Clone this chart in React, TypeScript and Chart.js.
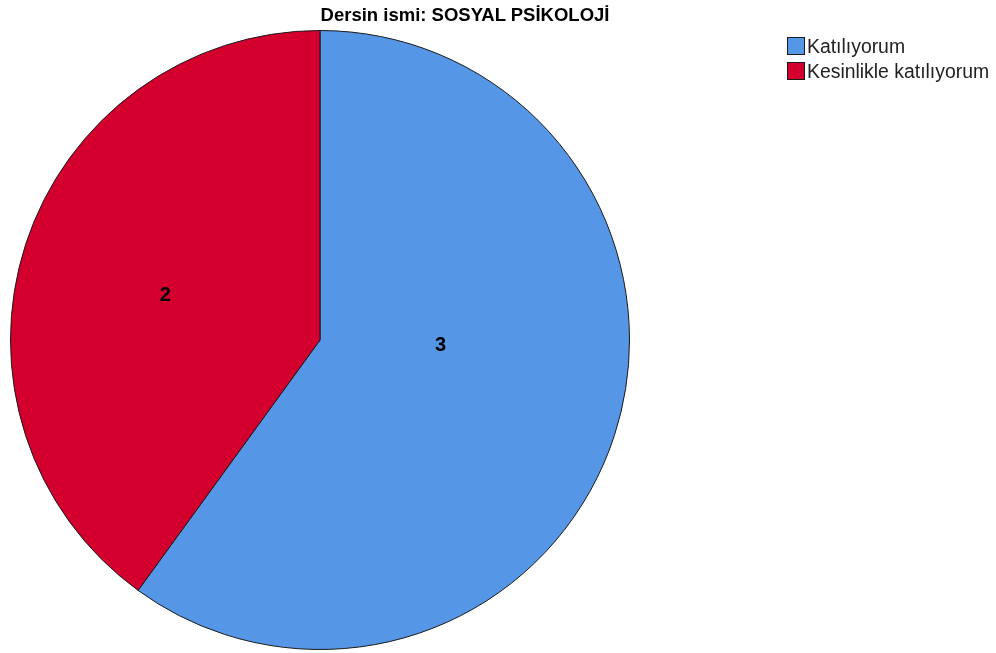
import React, { useEffect, useRef } from "react";
import { Chart, registerables } from "chart.js";

Chart.register(...registerables);

const titleText = "Dersin ismi: SOSYAL PSİKOLOJİ";
const categories = ["Katılıyorum", "Kesinlikle katılıyorum"];
const counts = [3, 2];
const sliceColors = ["#5596E6", "#D3002E"];

const FONT = "'Liberation Sans', Arial, sans-serif";

const valueLabelPlugin = {
  id: "valueLabels",
  afterDatasetsDraw(chart: any, _args: any, opts: any) {
    const ctx = chart.ctx;
    const meta = chart.getDatasetMeta(0);
    const placement = opts.placement || [];
    ctx.save();
    ctx.font = `bold 20px ${FONT}`;
    ctx.fillStyle = "#000";
    ctx.textAlign = "center";
    ctx.textBaseline = "middle";
    meta.data.forEach((arc: any, i: number) => {
      const p = arc.getProps(["x", "y", "outerRadius"], true);
      const pl = placement[i] || { angle: 0, r: 0.5 };
      const a = (pl.angle * Math.PI) / 180;
      const x = p.x + Math.cos(a) * p.outerRadius * pl.r;
      const y = p.y + Math.sin(a) * p.outerRadius * pl.r;
      ctx.fillText(String(chart.data.datasets[0].data[i]), x, y);
    });
    ctx.restore();
  },
};

export default function App() {
  const ref = useRef<HTMLCanvasElement | null>(null);

  useEffect(() => {
    if (!ref.current) return;
    const chart = new Chart(ref.current, {
      type: "pie",
      data: {
        labels: categories,
        datasets: [
          {
            data: counts,
            backgroundColor: sliceColors,
            borderColor: "#1a1a1a",
            borderWidth: 1,
          },
        ],
      },
      options: {
        responsive: false,
        animation: false,
        devicePixelRatio: 1,
        layout: { padding: { left: 10, top: 30, right: 366, bottom: 3 } },
        plugins: {
          legend: { display: false },
          title: { display: false },
          tooltip: { enabled: false },
          valueLabels: {
            placement: [
              { angle: 2.6, r: 0.39 },
              { angle: 196, r: 0.52 },
            ],
          },
        } as any,
      },
      plugins: [valueLabelPlugin],
    });
    return () => chart.destroy();
  }, []);

  return (
    <div
      style={{
        position: "fixed",
        left: 0,
        top: 0,
        width: 996,
        height: 653,
        background: "#fff",
        fontFamily: FONT,
      }}
    >
      <canvas
        ref={ref}
        width={996}
        height={653}
        style={{ position: "absolute", left: 0, top: 0, width: 996, height: 653 }}
      />
      <div
        style={{
          position: "absolute",
          left: 0,
          top: 4,
          width: 930,
          textAlign: "center",
          fontWeight: "bold",
          fontSize: 18.5,
          lineHeight: "22px",
          color: "#000",
        }}
      >
        {titleText}
      </div>
      <div style={{ position: "absolute", left: 787, top: 37 }}>
        {categories.map((c, i) => (
          <div
            key={c}
            style={{ display: "flex", alignItems: "center", height: 25, position: "relative" }}
          >
            <span
              style={{
                display: "inline-block",
                boxSizing: "border-box",
                width: 18,
                height: 18,
                background: sliceColors[i],
                border: "1px solid #1a1a1a",
                marginRight: 2,
                alignSelf: "flex-start",
              }}
            />
            <span style={{ fontSize: 19.4, color: "#222", lineHeight: "18px", alignSelf: "flex-start" }}>{c}</span>
          </div>
        ))}
      </div>
    </div>
  );
}
